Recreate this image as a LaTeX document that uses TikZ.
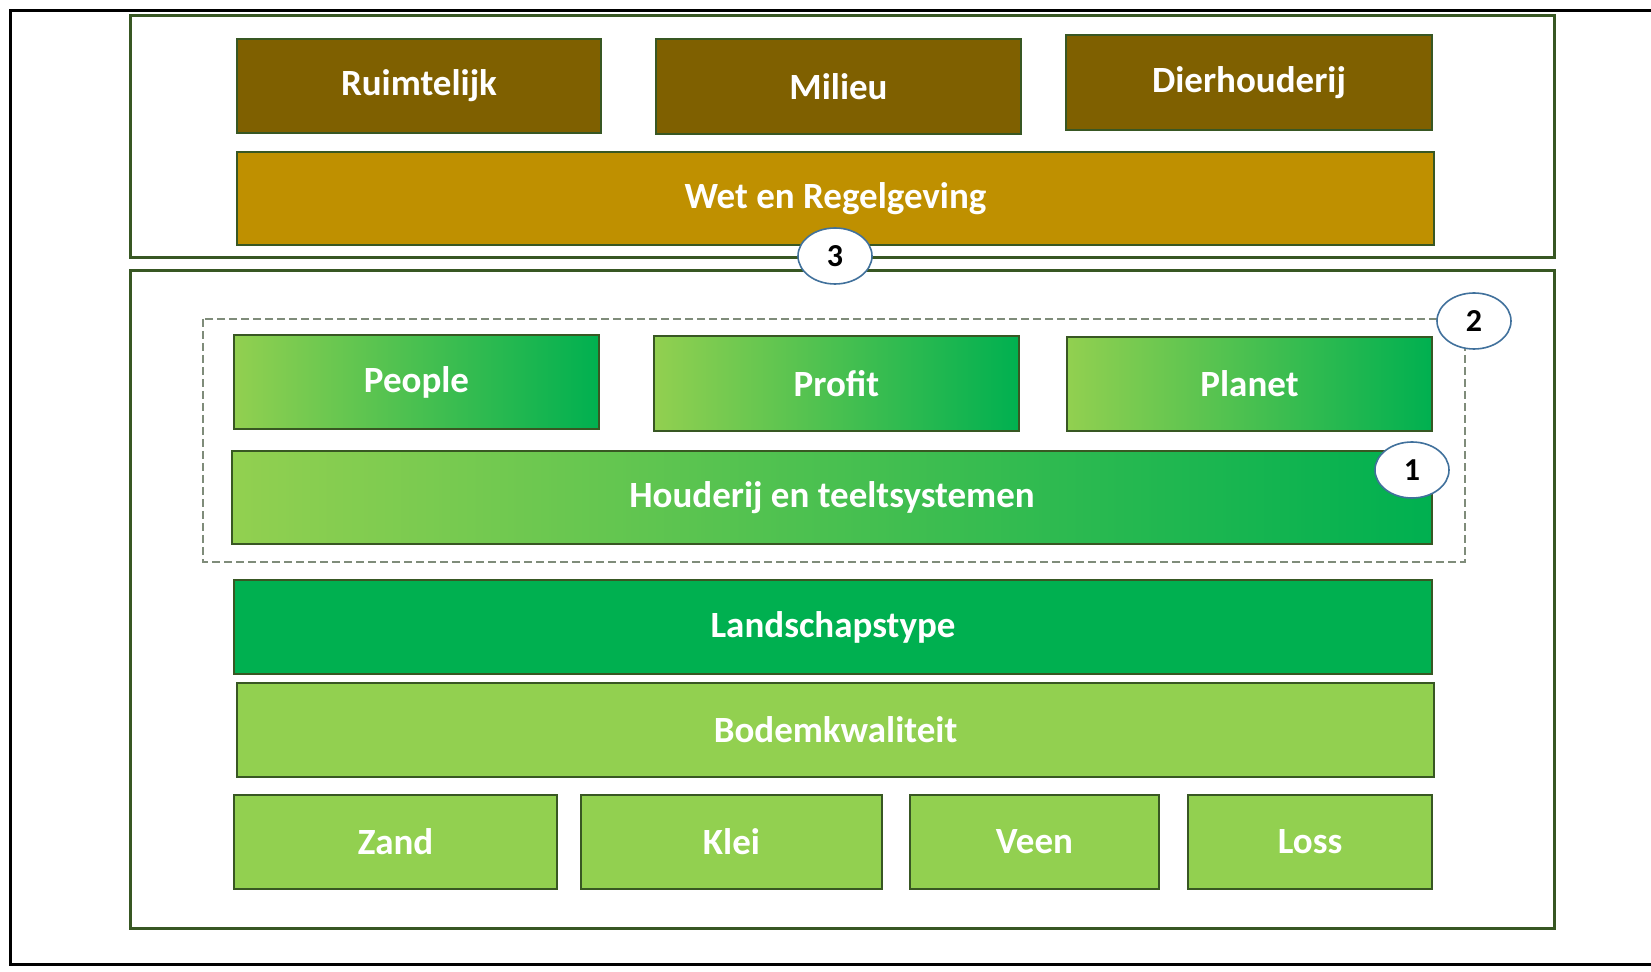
\documentclass[tikz,border=0pt]{standalone}
\usepackage{fontspec}
\setmainfont{Carlito}
\usepackage{tikz}
\usetikzlibrary{shapes.geometric}

\definecolor{frameGreen}{RGB}{56,87,35}
\definecolor{soilBrown}{RGB}{127,96,0}
\definecolor{lawGold}{RGB}{191,144,0}
\definecolor{darkGreen}{RGB}{0,176,80}
\definecolor{lightGreen}{RGB}{146,208,80}
\definecolor{circleBlue}{RGB}{65,113,156}
\definecolor{dashGrey}{RGB}{127,140,122}

\tikzset{
  layerbox/.style={draw=frameGreen, line width=0.75pt, text=white, inner sep=0pt, outer sep=0pt,
    font=\fontsize{18.5}{22}\selectfont\bfseries},
  brownbox/.style={layerbox, fill=soilBrown},
  goldbox/.style={layerbox, fill=lawGold},
  greenbox/.style={layerbox, fill=darkGreen},
  limebox/.style={layerbox, fill=lightGreen},
  fadebox/.style={layerbox, left color=lightGreen, right color=darkGreen},
  numbermark/.style={ellipse, draw=circleBlue, line width=0.8pt, fill=white, inner sep=0pt,
    minimum width=37pt, minimum height=28pt, font=\fontsize{16}{18}\selectfont\bfseries}
}

\begin{document}
\begin{tikzpicture}[x=0.5pt,y=0.5pt,yscale=-1,xscale=1]
  \useasboundingbox (0,0) rectangle (1651,972);

  % Frame
  \draw [line width=1.4pt] (1651,10.5) -- (10.5,10.5) -- (10.5,964.5) -- (1651,964.5);

  % Outer blocks
  \draw [frameGreen, line width=1.5pt] (130.5,15.8) rectangle (1554.5,258);
  \draw [frameGreen, line width=1.5pt] (130.5,270.6) rectangle (1554.5,928.7);

  % Wet en Regelgeving block
  \node [brownbox, minimum width=182pt, minimum height=47pt] (ruimte) at (419,86) {Ruimtelijk};
  \node [brownbox, minimum width=182.5pt, minimum height=47.5pt] (milieu) at (838.5,86.5) {Milieu};
  \node [brownbox, minimum width=183pt, minimum height=47.5pt] (dier) at (1249,82.5) {Dierhouderij};
  \node [goldbox, minimum width=598.5pt, minimum height=46.5pt] (wet) at (835.5,198.5) {Wet en Regelgeving};

  % Dashed group
  \draw [dashGrey, line width=0.9pt, dash pattern=on 4pt off 2pt] (203,319) rectangle (1465,562);

  % People Profit Planet
  \node [fadebox, minimum width=182.5pt, minimum height=47pt] (people) at (416.5,382) {People};
  \node [fadebox, minimum width=182.5pt, minimum height=47.5pt] (profit) at (836.5,383.5) {Profit};
  \node [fadebox, minimum width=182.5pt, minimum height=47pt] (planet) at (1249.5,384) {Planet};
  \node [fadebox, minimum width=600pt, minimum height=46.5pt] (houderij) at (832,497.5) {Houderij en teeltsystemen};

  % Landscape and soil
  \node [greenbox, minimum width=599pt, minimum height=47pt] (landschap) at (833,627) {Landschapstype};
  \node [limebox, minimum width=598.5pt, minimum height=47pt] (bodem) at (835.5,730) {Bodemkwaliteit};
  \node [limebox, minimum width=161.5pt, minimum height=47pt] (zand) at (395.5,842) {Zand};
  \node [limebox, minimum width=150.5pt, minimum height=47pt] (klei) at (731.5,842) {Klei};
  \node [limebox, minimum width=124.5pt, minimum height=47pt] (veen) at (1034.5,842) {Veen};
  \node [limebox, minimum width=122pt, minimum height=47pt] (loss) at (1310,842) {Loss};

  % Number marks
  \node [numbermark] (markone) at (1412,470) {1};
  \node [numbermark] (marktwo) at (1474,321) {2};
  \node [numbermark] (markthree) at (835,256) {3};
\end{tikzpicture}
\end{document}
